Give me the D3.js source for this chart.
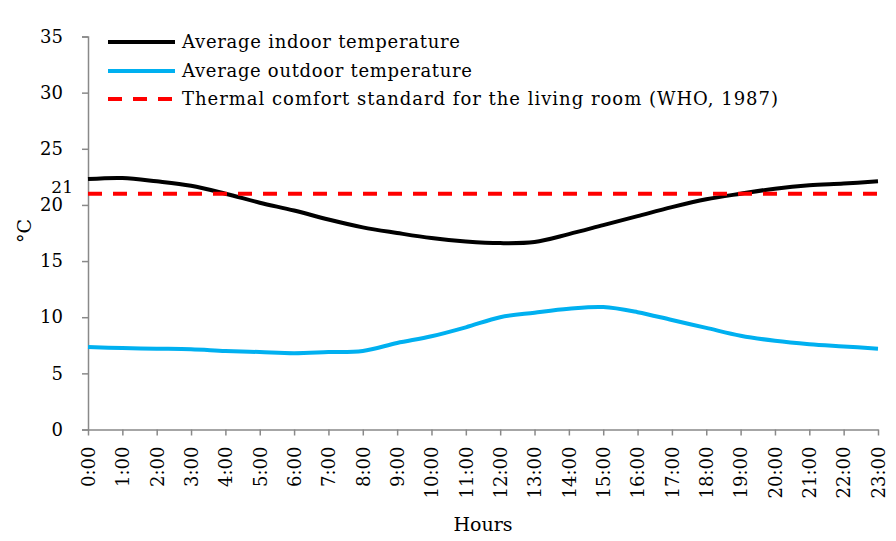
<!DOCTYPE html>
<html>
<head>
<meta charset="utf-8">
<script src="https://cdn.jsdelivr.net/npm/d3@7"></script>
<style>
  body { margin: 0; background: #fff; }
  svg text { font-family: "DejaVu Serif", "Liberation Serif", serif; fill: #000; }
</style>
</head>
<body>
<svg id="chart" width="896" height="541"></svg>
<script>
// Hours of the day (category axis)
const hours = ["0:00","1:00","2:00","3:00","4:00","5:00","6:00","7:00","8:00","9:00","10:00","11:00",
               "12:00","13:00","14:00","15:00","16:00","17:00","18:00","19:00","20:00","21:00","22:00","23:00"];

// Average indoor temperature (°C)
const indoor = [22.3, 22.4, 22.1, 21.7, 21.0, 20.2, 19.5, 18.7, 18.0, 17.5, 17.05, 16.75,
                16.6, 16.7, 17.4, 18.2, 19.0, 19.8, 20.5, 21.0, 21.45, 21.75, 21.9, 22.1];

// Average outdoor temperature (°C)
const outdoor = [7.35, 7.25, 7.2, 7.15, 7.0, 6.9, 6.8, 6.9, 7.0, 7.7, 8.3, 9.1,
                 10.0, 10.4, 10.75, 10.9, 10.45, 9.75, 9.05, 8.35, 7.9, 7.6, 7.4, 7.2];

// WHO thermal comfort standard for the living room
const comfort = 21;

const yTicks = [0, 5, 10, 15, 20, 25, 30, 35];

const seriesNames = [
  "Average indoor temperature",
  "Average outdoor temperature",
  "Thermal comfort standard for the living room (WHO, 1987)"
];

const svg = d3.select("#chart");
const axisColor = "#898989";

const x = d3.scalePoint().domain(hours).range([88, 878]);
const y = d3.scaleLinear().domain([0, 35]).range([429.5, 36.5]);

// Y axis
const yAxis = svg.append("g")
    .attr("transform", "translate(88,0)")
    .call(d3.axisLeft(y).tickValues(yTicks).tickSize(6).tickPadding(19));
yAxis.select(".domain").attr("stroke", axisColor).attr("stroke-width", 1.5);
yAxis.selectAll(".tick line").attr("stroke", axisColor).attr("stroke-width", 1.5);
yAxis.selectAll(".tick text").style("font-size", "18px").attr("font-family", null);

// the extra "21" label for the comfort line
svg.append("text")
    .attr("x", 73)
    .attr("y", y(comfort) - 7)
    .attr("dy", "0.35em")
    .attr("text-anchor", "end")
    .style("font-size", "17px")
    .text(comfort);

// X axis
const xAxis = svg.append("g")
    .attr("transform", `translate(0,${y(0)})`)
    .call(d3.axisBottom(x).tickSize(6).tickSizeOuter(0));
xAxis.select(".domain").attr("stroke", axisColor).attr("stroke-width", 1.5);
xAxis.selectAll(".tick line").attr("stroke", axisColor).attr("stroke-width", 1.5);
xAxis.selectAll(".tick text")
    .attr("font-family", null)
    .style("font-size", "18px")
    .attr("text-anchor", "end")
    .attr("y", 0)
    .attr("dy", "0.35em")
    .attr("transform", "translate(0,17) rotate(-90)")
    .attr("x", 0);

// Axis titles
svg.append("text")
    .attr("x", 483)
    .attr("y", 531)
    .attr("text-anchor", "middle")
    .style("font-size", "19px")
    .text("Hours");

svg.append("text")
    .attr("transform", "translate(31,231) rotate(-90)")
    .attr("text-anchor", "middle")
    .style("font-size", "19px")
    .text("°C");

// Lines
const line = d3.line()
    .x((d, i) => x(hours[i]))
    .y(d => y(d))
    .curve(d3.curveCatmullRom.alpha(0));

svg.append("path")
    .datum(indoor)
    .attr("fill", "none")
    .attr("stroke", "#000")
    .attr("stroke-width", 4)
    .attr("d", line);

svg.append("path")
    .datum(outdoor)
    .attr("fill", "none")
    .attr("stroke", "#00b0f0")
    .attr("stroke-width", 4)
    .attr("d", line);

svg.append("path")
    .datum(hours.map(() => comfort))
    .attr("fill", "none")
    .attr("stroke", "#ff0000")
    .attr("stroke-width", 4)
    .attr("stroke-dasharray", "14,11")
    .attr("d", d3.line().x((d, i) => x(hours[i])).y(d => y(d)));

// Legend
const legendStyles = [
  { color: "#000", dash: null, width: 278 },
  { color: "#00b0f0", dash: null, width: 290 },
  { color: "#ff0000", dash: "14,11", width: 596 }
];
const legendY = [42, 71, 99];

const legend = svg.append("g");
seriesNames.forEach((name, i) => {
  legend.append("line")
      .attr("x1", 108).attr("x2", 175)
      .attr("y1", legendY[i]).attr("y2", legendY[i])
      .attr("stroke", legendStyles[i].color)
      .attr("stroke-width", 4)
      .attr("stroke-dasharray", legendStyles[i].dash);
  legend.append("text")
      .attr("x", 182)
      .attr("y", legendY[i])
      .attr("dy", "0.35em")
      .attr("textLength", legendStyles[i].width)
      .attr("lengthAdjust", "spacing")
      .style("font-size", "18px")
      .text(name);
});
</script>
</body>
</html>
